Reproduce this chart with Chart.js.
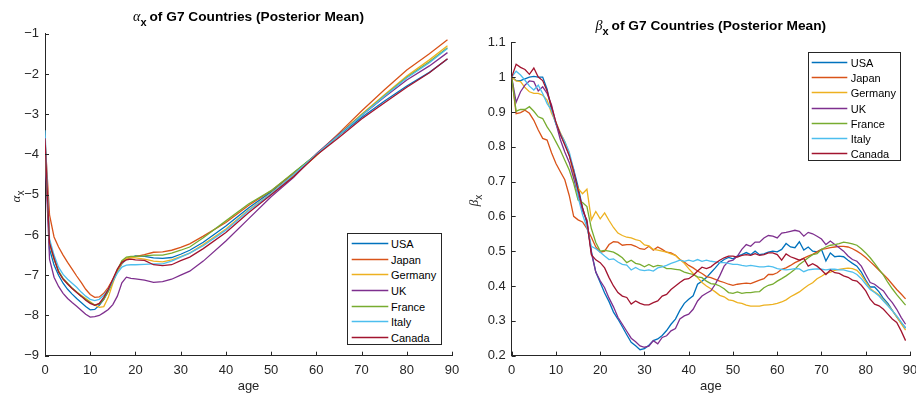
<!DOCTYPE html>
<html><head><meta charset="utf-8">
<script src="https://cdn.jsdelivr.net/npm/chart.js@4/dist/chart.umd.min.js"></script>
<style>
html,body{margin:0;padding:0;background:#fff;}
#wrap{position:relative;width:916px;height:393px;overflow:hidden;font-family:"Liberation Sans",Arial,Helvetica,sans-serif;}
.cv{position:absolute;top:0;}
.title{position:absolute;font-weight:bold;font-size:13.7px;color:#000;white-space:nowrap;transform:translate(-50%,-50%);line-height:1;}
.greek{font-family:"Liberation Serif","DejaVu Serif",serif;font-style:italic;font-weight:normal;font-size:14px;}
.sub{font-size:11px;font-weight:bold;position:relative;top:5px;margin-right:3px;}
.ylab{position:absolute;font-size:13px;color:#262626;white-space:nowrap;transform:translate(-50%,-50%) rotate(-90deg);line-height:1;}
.ylab .sub{font-weight:normal;font-size:10px;top:4px;}
.legend{position:absolute;background:#fff;border:1.2px solid #262626;box-sizing:border-box;}
.lsvg{position:absolute;overflow:visible;}
.ltext{position:absolute;font-size:11px;color:#000;white-space:nowrap;line-height:1;transform:translateY(-50%);}
</style></head><body>
<div id="wrap">
<canvas id="c1" class="cv" style="left:0" width="460" height="393"></canvas>
<canvas id="c2" class="cv" style="left:460px" width="456" height="393"></canvas>
<div class="title" style="left:248.5px;top:17px;"><span class="greek">α</span><span class="sub">x</span>of G7 Countries (Posterior Mean)</div>
<div class="title" style="left:710.8px;top:26px;"><span class="greek">β</span><span class="sub">x</span>of G7 Countries (Posterior Mean)</div>
<div class="ylab" style="left:15px;top:195px;"><span class="greek" style="font-size:13px">α</span><span class="sub">x</span></div>
<div class="ylab" style="left:473px;top:199px;"><span class="greek" style="font-size:13px">β</span><span class="sub">x</span></div>
</div>
<script>
const countries = ["USA","Japan","Germany","UK","France","Italy","Canada"];
const colors = ["#0072BD","#D95319","#EDB120","#7E2F8E","#77AC30","#4DBEEE","#A2142F"];

const xTicks = [0,10,20,30,40,50,60,70,80,90];
const alphaTicks = [-9,-8,-7,-6,-5,-4,-3,-2,-1];
const betaTicks = [0.2,0.3,0.4,0.5,0.6,0.7,0.8,0.9,1,1.1];

const alphaAges = [0,1,2,3,4,5,6,7,8,9,10,11,12,13,14,15,16,17,18,19,20,22,24,26,28,30,32,35,40,45,50,55,60,65,70,75,80,85,89];
const alphaUSA = [-3.7,-6.35,-6.75,-7.0,-7.2,-7.35,-7.47,-7.58,-7.68,-7.78,-7.86,-7.85,-7.75,-7.6,-7.4,-7.15,-6.9,-6.72,-6.6,-6.56,-6.52,-6.53,-6.57,-6.58,-6.56,-6.48,-6.38,-6.18,-5.78,-5.33,-4.93,-4.46,-4.0,-3.53,-3.08,-2.68,-2.3,-1.96,-1.63];
const alphaJapan = [-3.6,-5.5,-6.05,-6.3,-6.5,-6.68,-6.85,-7.02,-7.18,-7.35,-7.48,-7.55,-7.54,-7.45,-7.3,-7.1,-6.87,-6.68,-6.58,-6.55,-6.54,-6.49,-6.43,-6.42,-6.38,-6.31,-6.22,-6.03,-5.69,-5.27,-4.9,-4.47,-4.0,-3.47,-2.92,-2.4,-1.9,-1.5,-1.15];
const alphaGermany = [-3.8,-6.2,-6.6,-6.9,-7.1,-7.22,-7.33,-7.42,-7.5,-7.58,-7.66,-7.74,-7.8,-7.78,-7.55,-7.2,-6.9,-6.7,-6.58,-6.56,-6.57,-6.6,-6.65,-6.67,-6.62,-6.54,-6.45,-6.24,-5.85,-5.38,-4.97,-4.52,-4.03,-3.5,-3.0,-2.52,-2.05,-1.65,-1.3];
const alphaUK = [-3.9,-6.6,-7.05,-7.28,-7.45,-7.58,-7.68,-7.77,-7.87,-7.97,-8.04,-8.03,-8.0,-7.93,-7.85,-7.73,-7.52,-7.19,-7.05,-7.08,-7.09,-7.12,-7.18,-7.16,-7.1,-7.0,-6.9,-6.65,-6.15,-5.6,-5.05,-4.57,-3.98,-3.5,-3.03,-2.58,-2.15,-1.8,-1.47];
const alphaFrance = [-3.7,-6.2,-6.6,-6.9,-7.08,-7.2,-7.32,-7.42,-7.52,-7.6,-7.68,-7.74,-7.72,-7.6,-7.4,-7.15,-6.87,-6.64,-6.55,-6.53,-6.53,-6.52,-6.5,-6.5,-6.45,-6.38,-6.3,-6.07,-5.65,-5.23,-4.9,-4.45,-4.0,-3.52,-3.02,-2.55,-2.08,-1.7,-1.35];
const alphaItaly = [-3.4,-6.1,-6.5,-6.8,-6.98,-7.1,-7.2,-7.3,-7.42,-7.52,-7.6,-7.63,-7.6,-7.5,-7.35,-7.15,-6.95,-6.8,-6.75,-6.74,-6.74,-6.73,-6.72,-6.72,-6.65,-6.55,-6.45,-6.27,-5.88,-5.4,-4.98,-4.5,-4.0,-3.52,-3.03,-2.56,-2.1,-1.72,-1.37];
const alphaCanada = [-3.6,-6.2,-6.58,-6.92,-7.1,-7.22,-7.33,-7.43,-7.52,-7.62,-7.7,-7.75,-7.7,-7.55,-7.35,-7.1,-6.85,-6.68,-6.62,-6.6,-6.62,-6.63,-6.74,-6.76,-6.74,-6.64,-6.55,-6.34,-5.94,-5.45,-5.0,-4.55,-4.02,-3.58,-3.12,-2.72,-2.33,-1.97,-1.62];

const betaAges = [0,1,2,3,4,5,6,7,8,9,10,11,12,13,14,15,16,17,18,19,20,21,22,23,24,25,26,27,28,29,30,31,32,33,34,35,36,37,38,39,40,41,42,43,44,45,46,47,48,49,50,51,52,53,54,55,56,57,58,59,60,61,62,63,64,65,66,67,68,69,70,71,72,73,74,75,76,77,78,79,80,81,82,83,84,85,86,87,88,89];
const betaUSA = [1.0,0.99,0.99,0.995,1.0,1.002,1.0,1.0,0.965,0.905,
0.865,0.835,0.81,0.775,0.735,0.685,0.625,0.58,0.5,0.44,
0.41,0.38,0.355,0.325,0.305,0.283,0.26,0.238,0.228,0.217,
0.22,0.23,0.243,0.248,0.258,0.272,0.29,0.305,0.33,0.35,
0.362,0.372,0.405,0.414,0.424,0.438,0.452,0.467,0.476,0.482,
0.478,0.486,0.49,0.496,0.49,0.5,0.49,0.492,0.497,0.5,
0.498,0.505,0.522,0.512,0.51,0.527,0.503,0.512,0.5,0.498,
0.505,0.472,0.495,0.484,0.486,0.484,0.474,0.465,0.457,0.44,
0.417,0.397,0.397,0.383,0.364,0.35,0.33,0.311,0.294,0.28];
const betaJapan = [1.0,0.895,0.898,0.905,0.896,0.876,0.848,0.824,0.819,0.783,
0.752,0.728,0.705,0.66,0.6,0.59,0.584,0.565,0.54,0.512,
0.497,0.5,0.519,0.527,0.526,0.517,0.519,0.519,0.514,0.507,
0.505,0.514,0.503,0.512,0.505,0.497,0.495,0.488,0.476,0.469,
0.459,0.452,0.443,0.436,0.427,0.424,0.419,0.414,0.41,0.405,
0.402,0.405,0.407,0.408,0.407,0.412,0.417,0.421,0.433,0.433,
0.438,0.448,0.452,0.459,0.467,0.473,0.48,0.486,0.491,0.498,
0.505,0.507,0.51,0.512,0.514,0.514,0.512,0.507,0.5,0.492,
0.482,0.47,0.458,0.445,0.433,0.42,0.405,0.39,0.377,0.363];
const betaGermany = [1.0,0.989,0.987,0.97,0.958,0.953,0.953,0.948,0.934,0.896,
0.87,0.84,0.815,0.78,0.715,0.68,0.665,0.678,0.59,0.614,
0.593,0.61,0.588,0.568,0.552,0.545,0.54,0.538,0.533,0.53,
0.518,0.515,0.505,0.503,0.5,0.497,0.492,0.488,0.476,0.465,
0.45,0.436,0.424,0.41,0.4,0.392,0.383,0.373,0.369,0.36,
0.358,0.352,0.35,0.345,0.342,0.342,0.342,0.345,0.346,0.347,
0.35,0.354,0.36,0.369,0.376,0.383,0.393,0.402,0.409,0.421,
0.428,0.436,0.44,0.445,0.448,0.45,0.451,0.45,0.445,0.431,
0.412,0.393,0.383,0.374,0.359,0.345,0.33,0.311,0.292,0.273];
const betaUK = [1.0,0.928,0.958,0.977,0.989,0.987,0.96,0.972,0.953,0.92,
0.867,0.82,0.785,0.755,0.71,0.66,0.615,0.59,0.495,0.44,
0.415,0.395,0.365,0.34,0.31,0.29,0.27,0.25,0.24,0.228,
0.224,0.227,0.243,0.234,0.252,0.257,0.271,0.278,0.305,0.314,
0.319,0.333,0.357,0.371,0.379,0.386,0.405,0.429,0.457,0.471,
0.474,0.486,0.505,0.519,0.514,0.526,0.526,0.538,0.545,0.543,
0.538,0.552,0.554,0.557,0.56,0.557,0.543,0.554,0.55,0.543,
0.535,0.519,0.529,0.519,0.51,0.5,0.486,0.476,0.471,0.457,
0.433,0.41,0.405,0.395,0.386,0.367,0.352,0.333,0.31,0.29];
const betaFrance = [1.0,0.902,0.907,0.907,0.915,0.902,0.886,0.881,0.857,0.838,
0.814,0.79,0.761,0.733,0.695,0.647,0.64,0.628,0.565,0.525,
0.5,0.502,0.5,0.497,0.49,0.481,0.467,0.474,0.465,0.462,
0.455,0.462,0.455,0.459,0.457,0.45,0.45,0.448,0.446,0.44,
0.436,0.433,0.426,0.424,0.414,0.407,0.405,0.4,0.392,0.381,
0.379,0.383,0.379,0.381,0.381,0.383,0.384,0.395,0.402,0.405,
0.414,0.421,0.429,0.438,0.448,0.462,0.471,0.481,0.49,0.493,
0.505,0.512,0.517,0.519,0.522,0.526,0.524,0.521,0.517,0.507,
0.495,0.481,0.465,0.448,0.431,0.41,0.392,0.375,0.36,0.345];
const betaItaly = [1.0,1.017,1.006,0.991,0.974,0.963,0.977,0.953,0.924,0.905,
0.867,0.838,0.814,0.785,0.735,0.655,0.605,0.568,0.514,0.507,
0.497,0.486,0.476,0.478,0.469,0.462,0.46,0.446,0.453,0.446,
0.444,0.446,0.443,0.452,0.455,0.459,0.465,0.469,0.474,0.471,
0.474,0.471,0.476,0.471,0.474,0.471,0.469,0.467,0.467,0.465,
0.462,0.462,0.459,0.457,0.459,0.457,0.455,0.455,0.457,0.455,
0.45,0.448,0.446,0.448,0.45,0.449,0.441,0.446,0.448,0.449,
0.448,0.446,0.448,0.448,0.446,0.446,0.443,0.44,0.433,0.421,
0.405,0.39,0.381,0.371,0.357,0.343,0.329,0.314,0.297,0.278];
const betaCanada = [1.0,1.037,1.028,1.022,1.008,1.026,1.0,0.99,0.96,0.915,
0.87,0.835,0.805,0.775,0.73,0.675,0.625,0.585,0.49,0.475,
0.467,0.452,0.424,0.4,0.381,0.371,0.367,0.348,0.357,0.35,
0.346,0.346,0.352,0.357,0.371,0.376,0.39,0.4,0.41,0.419,
0.421,0.43,0.443,0.454,0.45,0.455,0.465,0.474,0.481,0.486,
0.486,0.483,0.488,0.49,0.488,0.493,0.488,0.49,0.495,0.495,
0.49,0.474,0.492,0.484,0.479,0.474,0.479,0.457,0.464,0.457,
0.446,0.433,0.446,0.438,0.436,0.429,0.425,0.417,0.414,0.402,
0.386,0.362,0.348,0.343,0.333,0.319,0.305,0.295,0.271,0.243];

const alphaSeries = [alphaUSA,alphaJapan,alphaGermany,alphaUK,alphaFrance,alphaItaly,alphaCanada];
const betaSeries = [betaUSA,betaJapan,betaGermany,betaUK,betaFrance,betaItaly,betaCanada];

const FONT = '"Liberation Sans", Arial, Helvetica, sans-serif';
const AXIS = '#262626';

const inwardTicks = {
  id: 'inwardTicks',
  afterDatasetsDraw(chart) {
    const {ctx, chartArea: a, scales: {x, y}} = chart;
    ctx.save();
    ctx.strokeStyle = AXIS; ctx.lineWidth = 1;
    ctx.beginPath();
    x.ticks.forEach(t => { const px = Math.round(x.getPixelForValue(t.value)) + 0.5; ctx.moveTo(px, a.bottom); ctx.lineTo(px, a.bottom - 4); });
    y.ticks.forEach(t => { const py = Math.round(y.getPixelForValue(t.value)) + 0.5; ctx.moveTo(a.left, py); ctx.lineTo(a.left + 4, py); });
    ctx.stroke();
    ctx.restore();
  }
};

function makeChart(id, xs, series, yTicks, padTop, padRight, yW, xH, fmt) {
  return new Chart(document.getElementById(id), {
    type: 'line',
    data: {
      datasets: countries.map((n, i) => ({
        label: n,
        data: xs.map((x, j) => ({x: x, y: series[i][j]})),
        borderColor: colors[i], backgroundColor: colors[i],
        borderWidth: 1.3, pointRadius: 0, fill: false, tension: 0,
        order: countries.length - i
      }))
    },
    options: {
      responsive: false, animation: false, devicePixelRatio: 1,
      layout: {padding: {top: padTop, right: padRight, left: 0, bottom: 0}},
      plugins: {legend: {display: false}, tooltip: {enabled: false}, title: {display: false}},
      scales: {
        x: {
          type: 'linear', min: 0, max: 90,
          afterBuildTicks: s => { s.ticks = xTicks.map(v => ({value: v})); },
          afterFit: s => { s.height = xH; s.paddingLeft = 0; s.paddingRight = 0; },
          grid: {display: true, drawOnChartArea: false, drawTicks: false},
          border: {display: true, color: AXIS, width: 1},
          ticks: {font: {size: 13, family: FONT}, color: AXIS, padding: 7, maxRotation: 0, autoSkip: false},
          title: {display: true, text: 'age', font: {size: 13, family: FONT}, color: AXIS, padding: {top: 0, bottom: -1}}
        },
        y: {
          type: 'linear', min: yTicks[0], max: yTicks[yTicks.length - 1],
          afterBuildTicks: s => { s.ticks = yTicks.map(v => ({value: v})); },
          afterFit: s => { s.width = yW; s.paddingTop = 0; s.paddingBottom = 0; },
          grid: {display: true, drawOnChartArea: false, drawTicks: false},
          border: {display: true, color: AXIS, width: 1},
          ticks: {font: {size: 13, family: FONT}, color: AXIS, padding: 6, autoSkip: false, callback: fmt}
        }
      }
    },
    plugins: [inwardTicks]
  });
}

makeChart('c1', alphaAges, alphaSeries, alphaTicks, 33.7, 8, 45, 37.3, v => String(v).replace('-', '\u2212'));
makeChart('c2', betaAges, betaSeries, betaTicks, 42.3, 6, 51.7, 37.4, v => String(Number(v.toFixed(1))));

const SVGNS = 'http://www.w3.org/2000/svg';
function legend(left, top, w, h, firstY, step, lineX0, lineX1, textX) {
  const wrap = document.getElementById('wrap');
  const box = document.createElement('div');
  box.className = 'legend';
  box.style.cssText = `left:${left}px;top:${top}px;width:${w}px;height:${h}px;`;
  wrap.appendChild(box);
  const svg = document.createElementNS(SVGNS, 'svg');
  svg.setAttribute('class', 'lsvg');
  svg.setAttribute('width', '916'); svg.setAttribute('height', '393');
  svg.style.left = '0px'; svg.style.top = '0px';
  wrap.appendChild(svg);
  countries.forEach((n, i) => {
    const cy = Math.round(firstY + i * step) + 0.5;
    const ln = document.createElementNS(SVGNS, 'line');
    ln.setAttribute('x1', lineX0); ln.setAttribute('x2', lineX1);
    ln.setAttribute('y1', cy); ln.setAttribute('y2', cy);
    ln.setAttribute('stroke', colors[i]); ln.setAttribute('stroke-width', '1.3');
    svg.appendChild(ln);
    const tx = document.createElement('div');
    tx.className = 'ltext';
    tx.style.cssText = `left:${textX}px;top:${cy}px;`;
    tx.textContent = n;
    wrap.appendChild(tx);
  });
}
legend(347, 233, 95, 112, 243.3, 15.56, 351.7, 388.3, 391);
legend(807.7, 51.7, 93, 109.3, 61.7, 15.27, 811.7, 847.3, 850.7);
</script>
</body></html>
